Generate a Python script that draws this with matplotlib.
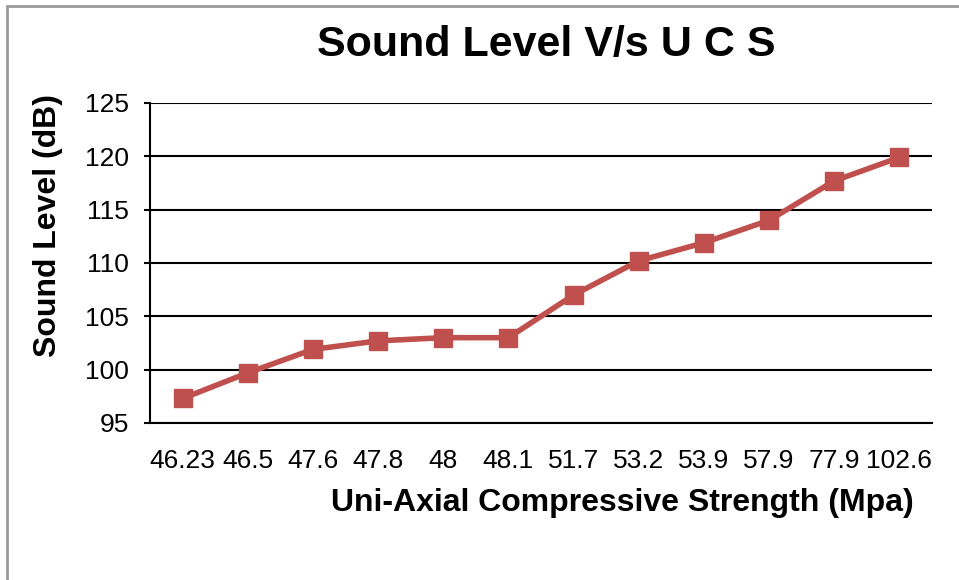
import matplotlib.pyplot as plt
from matplotlib.patches import Rectangle

plt.rcParams['font.family'] = ['Liberation Sans', 'DejaVu Sans']

ucs_labels = ["46.23", "46.5", "47.6", "47.8", "48", "48.1",
              "51.7", "53.2", "53.9", "57.9", "77.9", "102.6"]
sound_db = [97.3, 99.7, 101.9, 102.7, 103.0, 103.0,
            107.0, 110.2, 111.9, 114.0, 117.7, 119.9]
y_ticks = [95, 100, 105, 110, 115, 120, 125]

W, H = 959, 580
fig = plt.figure(figsize=(W / 100, H / 100), dpi=100)

# light grey frame around the chart area
fig.patches.append(Rectangle((7 / W, -0.1), 1.2, (H - 6) / H + 0.1,
                             transform=fig.transFigure, fill=False,
                             edgecolor="#9a9a9a", linewidth=2))

ax = fig.add_axes([150 / W, (H - 423) / H, (932 - 150) / W, (423 - 103) / H])

x = list(range(len(ucs_labels)))
ax.plot(x, sound_db, color="#C0504D", linewidth=4, marker="s",
        markersize=13.5, markerfacecolor="#C0504D", markeredgecolor="#C0504D",
        zorder=3)

ax.set_xlim(-0.5, len(ucs_labels) - 0.5)
ax.set_ylim(95, 125)
ax.set_yticks(y_ticks)
ax.set_xticks(x)
ax.set_xticklabels(ucs_labels)
ax.yaxis.grid(True, color="black", linewidth=1.5)
ax.set_axisbelow(True)

for s in ["top", "right"]:
    ax.spines[s].set_visible(False)
for s in ["left", "bottom"]:
    ax.spines[s].set_linewidth(1.5)
    ax.spines[s].set_color("black")

ax.tick_params(axis="y", length=4, width=1.5, labelsize=19, pad=11)
ax.tick_params(axis="x", length=0, labelsize=19, pad=19)

fig.text(546 / W, 1 - 45 / H, "Sound Level V/s U C S", ha="center",
         va="center", fontsize=31, fontweight="bold")
fig.text(622 / W, 1 - 503 / H, "Uni-Axial Compressive Strength (Mpa)",
         ha="center", va="center", fontsize=23, fontweight="bold")
fig.text(48 / W, 1 - 225 / H, "Sound Level (dB)", ha="center",
         va="center", rotation=90, fontsize=23, fontweight="bold")

fig.savefig("out.png", dpi=100)
